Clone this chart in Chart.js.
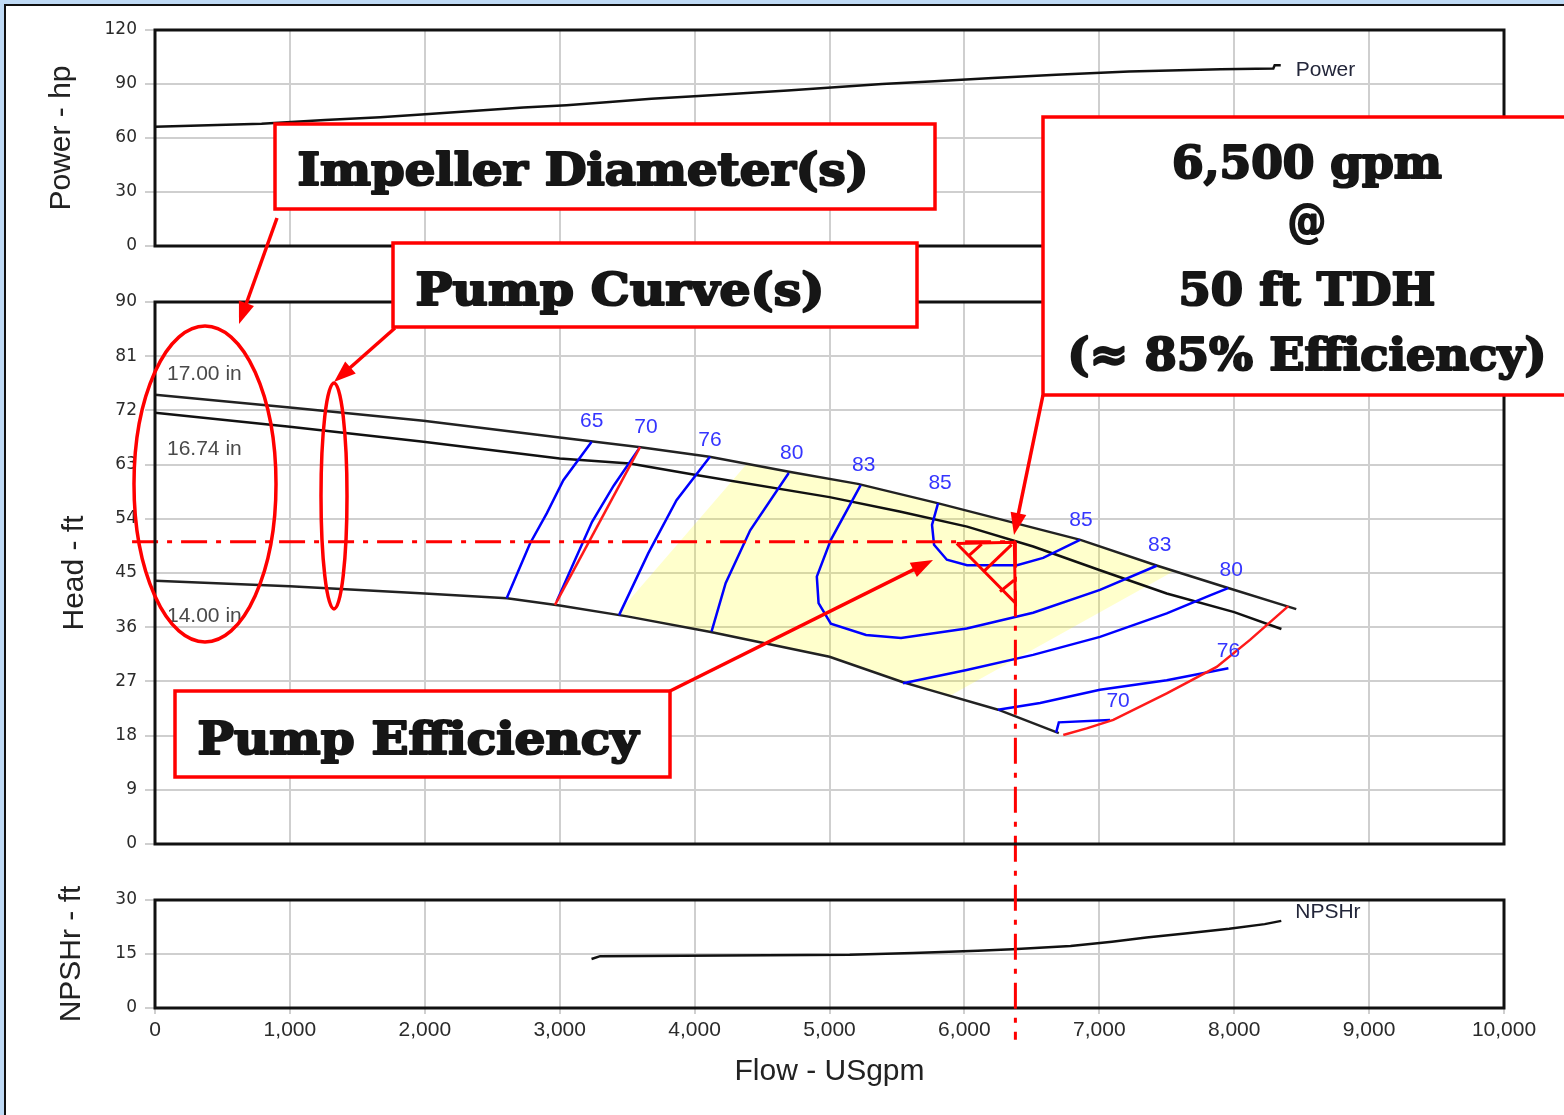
<!DOCTYPE html>
<html>
<head>
<meta charset="utf-8">
<script src="https://cdn.jsdelivr.net/npm/chart.js@4.4.1/dist/chart.umd.min.js"></script>
<style>
  html, body { margin: 0; padding: 0; }
  body { width: 1564px; height: 1115px; background: #bfdaf5; position: relative; overflow: hidden; }
  #panel { position: absolute; left: 4px; top: 4px; right: 0; bottom: 0; background: #fff;
           border-left: 2px solid #111; border-top: 2px solid #111; }
  canvas { position: absolute; left: 0; top: 0; }
</style>
</head>
<body>
<div id="panel"></div>
<canvas id="power" width="1564" height="1115"></canvas>
<canvas id="npsh" width="1564" height="1115"></canvas>
<canvas id="head" width="1564" height="1115"></canvas>
<script>
// ---- data: [flow USgpm, value] ----
const power = [[0, 66.3], [790, 67.9], [1260, 70.0], [1670, 71.5], [2030, 73.3], [2380, 75.1], [2730, 76.9],
  [3050, 78.2], [3370, 80.0], [3680, 81.8], [4030, 83.3], [4360, 84.9], [4690, 86.4], [5040, 88.2],
  [5390, 90.0], [5780, 91.5], [6210, 93.3], [6680, 95.1], [7220, 96.9], [7900, 98.2], [8290, 98.6],
  [8300, 100.4], [8345, 100.4]]

const npshr = [[3236, 13.6], [3300, 14.4], [5150, 14.8], [5620, 15.3], [6100, 15.9], [6356, 16.3],
  [6787, 17.2], [7094, 18.4], [7349, 19.6], [7636, 20.7], [7963, 22.0], [8226, 23.3], [8349, 24.2]]

// head curves for each impeller diameter
const dia1700 = [[0, 74.6], [1000, 72.5], [1990, 70.3], [3000, 67.5], [3600, 65.9], [4110, 64.3], [4700, 61.8],
  [5210, 59.8], [5800, 56.6], [6860, 50.5], [7430, 46.2], [7955, 42.5], [8460, 39.0]]
const dia1674 = [[0, 71.6], [1000, 69.3], [1990, 66.8], [3000, 64.0], [3520, 63.2], [4000, 61.3], [5000, 57.6],
  [5520, 55.2], [6020, 52.7], [6510, 49.4], [7000, 45.5], [7500, 41.6], [8000, 38.5], [8350, 35.7]]
const dia1400 = [[0, 43.7], [1000, 42.8], [2000, 41.6], [2610, 40.8], [3000, 39.6], [3500, 37.8], [4120, 35.2],
  [5000, 31.1], [5540, 26.9], [5740, 25.6], [6250, 22.3], [6700, 18.4]]

// efficiency contours (%)
const eff65 = [[2607, 40.8], [2780, 49.9], [2904, 54.9], [3027, 60.4], [3237, 66.8]]
const eff70 = [[2978, 40.3], [3110, 47.0], [3240, 53.5], [3400, 59.5], [3595, 65.9]]
const eff76 = [[3440, 38.0], [3657, 48.3], [3866, 57.1], [4114, 64.3]]
const eff80 = [[4126, 35.3], [4230, 43.3], [4412, 52.1], [4698, 61.6]]
const eff83 = [[5231, 59.6], [5010, 50.5], [4906, 44.4], [4919, 40.0], [5010, 36.6], [5271, 34.7], [5530, 34.2],
  [6017, 35.8], [6509, 38.4], [7005, 42.2], [7425, 46.2]]
const eff85 = [[5805, 56.6], [5760, 53.0], [5775, 49.7], [5870, 47.2], [6020, 46.3], [6390, 46.3], [6584, 47.5],
  [6857, 50.5]]
const eff80b = [[5545, 26.7], [6017, 28.9], [6509, 31.4], [7005, 34.4], [7500, 38.3], [7821, 41.3], [7955, 42.5]]
const eff76b = [[6249, 22.3], [6561, 23.4], [7005, 25.6], [7500, 27.2], [7957, 29.2]]
const eff70b = [[6680, 18.5], [6700, 20.2], [7080, 20.6]]

// minimum flow and end-of-curve limits
const minFlow = [[2965, 39.7], [3595, 65.9]]
const runout = [[6733, 18.1], [6906, 19.2], [7104, 20.6], [7500, 25.0], [7870, 29.4], [8117, 33.9], [8401, 39.5]]

// preferred operating region
const por = [[3432, 38.3], [4386, 63.1], [4700, 61.8], [5210, 59.8], [5800, 56.6], [6860, 50.5], [7430, 46.2],
  [7550, 45.3], [5893, 24.6], [5540, 26.9], [5000, 31.1], [4120, 35.2], [3432, 38.3]]

// duty point 6,500 gpm @ 50 ft and its marker
const dutyH = [[-170, 50.2], [6378, 50.2]]
const dutyV = [[6378, 50.2], [6378, -32.5]]
const dutyMark = [[5943, 49.9], [6370, 50.1], [6378, 40.0], [5943, 49.9]]
const hatch1 = [[6128, 49.8], [6029, 47.8]]
const hatch2 = [[6350, 49.7], [6140, 45.2]]
const hatch3 = [[6368, 43.8], [6264, 41.9]]

// ---- styling ----
const gridColor = '#cfcfcf'
const effColor = '#3535ff'
const tickFont = { family: 'DejaVu Sans', size: 17 }
const titleFont = { family: 'Liberation Sans', size: 30 }
const labelFont = '21px "Liberation Sans"'

Chart.defaults.font.family = 'Liberation Sans'

function curve(points, color, width, extra) {
  return Object.assign({
    data: points.map(([x, y]) => ({ x, y })),
    showLine: true,
    borderColor: color,
    borderWidth: width,
    pointRadius: 0,
    fill: false,
    tension: 0
  }, extra || {})
}

function yAxis(min, max, step, title, titlePad) {
  return {
    min, max,
    ticks: { stepSize: step, font: tickFont, color: '#2a2a2a', padding: 8 },
    grid: { color: gridColor, lineWidth: 2, tickLength: 10 },
    border: { display: false },
    title: { display: true, text: title, font: titleFont, color: '#222', padding: { top: titlePad, bottom: 0 } },
    afterFit: s => { s.width = 155 }
  }
}

function hiddenX() {
  return {
    type: 'linear', min: 0, max: 10000,
    ticks: { display: false, stepSize: 1000 },
    grid: { color: gridColor, lineWidth: 2, drawTicks: false },
    border: { display: false },
    afterFit: s => { s.height = 0 }
  }
}

const framePlugin = {
  id: 'frame',
  afterDatasetsDraw(chart) {
    const { ctx, chartArea: a } = chart
    ctx.save()
    ctx.strokeStyle = '#111'
    ctx.lineWidth = 3
    ctx.strokeRect(a.left, a.top, a.right - a.left, a.bottom - a.top)
    ctx.restore()
  }
}

// text tags at the ends of curves
const tagPlugin = {
  id: 'tags',
  afterDatasetsDraw(chart) {
    const { ctx, scales: { x, y } } = chart
    chart.data.datasets.forEach(ds => {
      (ds.tags || []).forEach(t => {
        const p = ds.data[t.at < 0 ? ds.data.length + t.at : t.at]
        ctx.save()
        ctx.font = labelFont
        ctx.fillStyle = t.color || effColor
        ctx.textAlign = t.align || 'center'
        ctx.textBaseline = 'middle'
        ctx.fillText(t.text, x.getPixelForValue(p.x) + (t.dx ?? 3), y.getPixelForValue(p.y) + (t.dy ?? -20))
        ctx.restore()
      })
    })
  }
}

// red call-outs drawn over the whole figure
const notes = [
  { box: [275, 124, 935, 209], lines: [{ text: 'Impeller Diameter(s)', cx: 583, base: 185, w: 573 }] },
  { box: [393, 243, 917, 327], lines: [{ text: 'Pump Curve(s)', cx: 620, base: 305, w: 411 }] },
  { box: [175, 691, 670, 777], lines: [{ text: 'Pump Efficiency', cx: 418, base: 754, w: 443 }] },
  { box: [1043, 117, 1575, 395], lines: [
    { text: '6,500 gpm', cx: 1307, base: 178, w: 272 },
    { text: '@', cx: 1307, mid: 224, w: 40 },
    { text: '50 ft TDH', cx: 1307, base: 305, w: 259 },
    { text: '(≈ 85% Efficiency)', cx: 1307, base: 370, w: 481 }
  ] }
]
const rings = [[205, 484, 71, 158], [334, 496, 13, 113]]
const arrows = [[277, 218, 239, 324], [395, 328, 334, 382], [670, 691, 933, 560], [1043, 395, 1014, 535]]

const notePlugin = {
  id: 'notes',
  afterDraw(chart) {
    const ctx = chart.ctx
    ctx.save()
    ctx.strokeStyle = '#ff0000'
    ctx.fillStyle = '#ff0000'
    ctx.lineWidth = 3.5

    rings.forEach(([cx, cy, rx, ry]) => {
      ctx.beginPath()
      ctx.ellipse(cx, cy, rx, ry, 0, 0, Math.PI * 2)
      ctx.stroke()
    })

    arrows.forEach(([x1, y1, x2, y2]) => {
      const a = Math.atan2(y2 - y1, x2 - x1)
      const L = 22, W = 8
      ctx.beginPath()
      ctx.moveTo(x1, y1)
      ctx.lineTo(x2 - L * 0.7 * Math.cos(a), y2 - L * 0.7 * Math.sin(a))
      ctx.stroke()
      ctx.beginPath()
      ctx.moveTo(x2, y2)
      ctx.lineTo(x2 - L * Math.cos(a) + W * Math.sin(a), y2 - L * Math.sin(a) - W * Math.cos(a))
      ctx.lineTo(x2 - L * Math.cos(a) - W * Math.sin(a), y2 - L * Math.sin(a) + W * Math.cos(a))
      ctx.closePath()
      ctx.fill()
    })

    notes.forEach(n => {
      const [l, t, r, b] = n.box
      ctx.fillStyle = '#fff'
      ctx.fillRect(l, t, r - l, b - t)
      ctx.strokeStyle = '#ff0000'
      ctx.lineWidth = 3.5
      ctx.strokeRect(l, t, r - l, b - t)
      ctx.font = 'bold 45px "DejaVu Serif"'
      n.lines.forEach(ln => {
        const m = ctx.measureText(ln.text)
        ctx.save()
        let y = ln.base
        if (ln.mid !== undefined)
          y = ln.mid + (m.actualBoundingBoxAscent - m.actualBoundingBoxDescent) / 2
        ctx.translate(ln.cx, y)
        ctx.scale(ln.w / (m.width + 2), 1)
        ctx.textAlign = 'center'
        ctx.textBaseline = 'alphabetic'
        ctx.fillStyle = '#161616'
        ctx.strokeStyle = '#161616'
        ctx.lineWidth = 2.2
        ctx.lineJoin = 'round'
        ctx.strokeText(ln.text, 0, 0)
        ctx.fillText(ln.text, 0, 0)
        ctx.restore()
      })
    })
    ctx.restore()
  }
}

const baseOptions = {
  responsive: false,
  animation: false,
  devicePixelRatio: 1,
  events: [],
  plugins: { legend: { display: false }, tooltip: { enabled: false } }
}

// ---- power ----
new Chart(document.getElementById('power'), {
  type: 'scatter',
  plugins: [framePlugin, tagPlugin],
  data: {
    datasets: [
      curve(power, '#111', 2.5, { tags: [{ text: 'Power', at: -1, dx: 15, dy: 5, align: 'left', color: '#23263a' }] })
    ]
  },
  options: {
    ...baseOptions,
    layout: { padding: { left: 0, top: 30, right: 60, bottom: 869 } },
    scales: { x: hiddenX(), y: yAxis(0, 120, 30, 'Power - hp', 44) }
  }
})

// ---- NPSHr ----
new Chart(document.getElementById('npsh'), {
  type: 'scatter',
  plugins: [framePlugin, tagPlugin],
  data: {
    datasets: [
      curve(npshr, '#111', 2.5, { tags: [{ text: 'NPSHr', at: -1, dx: 14, dy: -9, align: 'left', color: '#23263a' }] })
    ]
  },
  options: {
    ...baseOptions,
    layout: { padding: { left: 0, top: 900, right: 60, bottom: 0 } },
    scales: {
      x: {
        type: 'linear', min: 0, max: 10000,
        ticks: {
          stepSize: 1000, font: { family: 'Liberation Sans', size: 21 }, color: '#2a2a2a', padding: 4,
          maxRotation: 0, autoSkip: false, callback: v => v.toLocaleString('en-US')
        },
        grid: { color: gridColor, lineWidth: 2, tickLength: 6 },
        border: { display: false },
        title: { display: true, text: 'Flow - USgpm', font: titleFont, color: '#222', padding: { top: 0, bottom: 25 } },
        afterFit: s => { s.height = 107 }
      },
      y: yAxis(0, 30, 15, 'NPSHr - ft', 54)
    }
  }
})

// ---- head ----
const blue = '#0000ff'
const dash = { borderDash: [26, 9, 5, 9], clip: false }
new Chart(document.getElementById('head'), {
  type: 'scatter',
  plugins: [framePlugin, tagPlugin, notePlugin],
  data: {
    datasets: [
      curve(dutyH, '#ff0000', 3, dash),
      curve(dutyV, '#ff0000', 3, dash),
      curve(dutyMark, '#ff0000', 3),
      curve(hatch1, '#ff0000', 3),
      curve(hatch2, '#ff0000', 3),
      curve(hatch3, '#ff0000', 3),
      curve(runout, '#ff1a1a', 2.5),
      curve(minFlow, '#ff1a1a', 2.5),
      curve(eff65, blue, 2.5, { tags: [{ text: '65', at: -1, dx: 0, dy: -21 }] }),
      curve(eff70, blue, 2.5, { tags: [{ text: '70', at: -1, dx: 6 }] }),
      curve(eff76, blue, 2.5, { tags: [{ text: '76', at: -1, dx: 0, dy: -17 }] }),
      curve(eff80, blue, 2.5, { tags: [{ text: '80', at: -1 }] }),
      curve(eff83, blue, 2.5, { tags: [{ text: '83', at: 0 }, { text: '83', at: -1, dy: -21 }] }),
      curve(eff85, blue, 2.5, { tags: [{ text: '85', at: 0, dx: 2 }, { text: '85', at: -1, dx: 1 }] }),
      curve(eff80b, blue, 2.5, { tags: [{ text: '80', at: -1, dy: -18 }] }),
      curve(eff76b, blue, 2.5, { tags: [{ text: '76', at: -1, dx: 0, dy: -17 }] }),
      curve(eff70b, blue, 2.5, { tags: [{ text: '70', at: -1, dx: 8, dy: -19 }] }),
      curve(dia1700, '#222', 2.5, { tags: [{ text: '17.00 in', at: 0, dx: 12, dy: -21, align: 'left', color: '#4a4a4a' }] }),
      curve(dia1674, '#111', 2.5, { tags: [{ text: '16.74 in', at: 0, dx: 12, dy: 36, align: 'left', color: '#4a4a4a' }] }),
      curve(dia1400, '#222', 2.5, { tags: [{ text: '14.00 in', at: 0, dx: 12, dy: 35, align: 'left', color: '#4a4a4a' }] }),
      curve(por, 'rgba(0,0,0,0)', 0, { fill: 'shape', backgroundColor: 'rgba(255,255,0,0.2)' })
    ]
  },
  options: {
    ...baseOptions,
    layout: { padding: { left: 0, top: 302, right: 60, bottom: 271 } },
    scales: { x: hiddenX(), y: yAxis(0, 90, 9, 'Head - ft', 57) }
  }
})
</script>
</body>
</html>
